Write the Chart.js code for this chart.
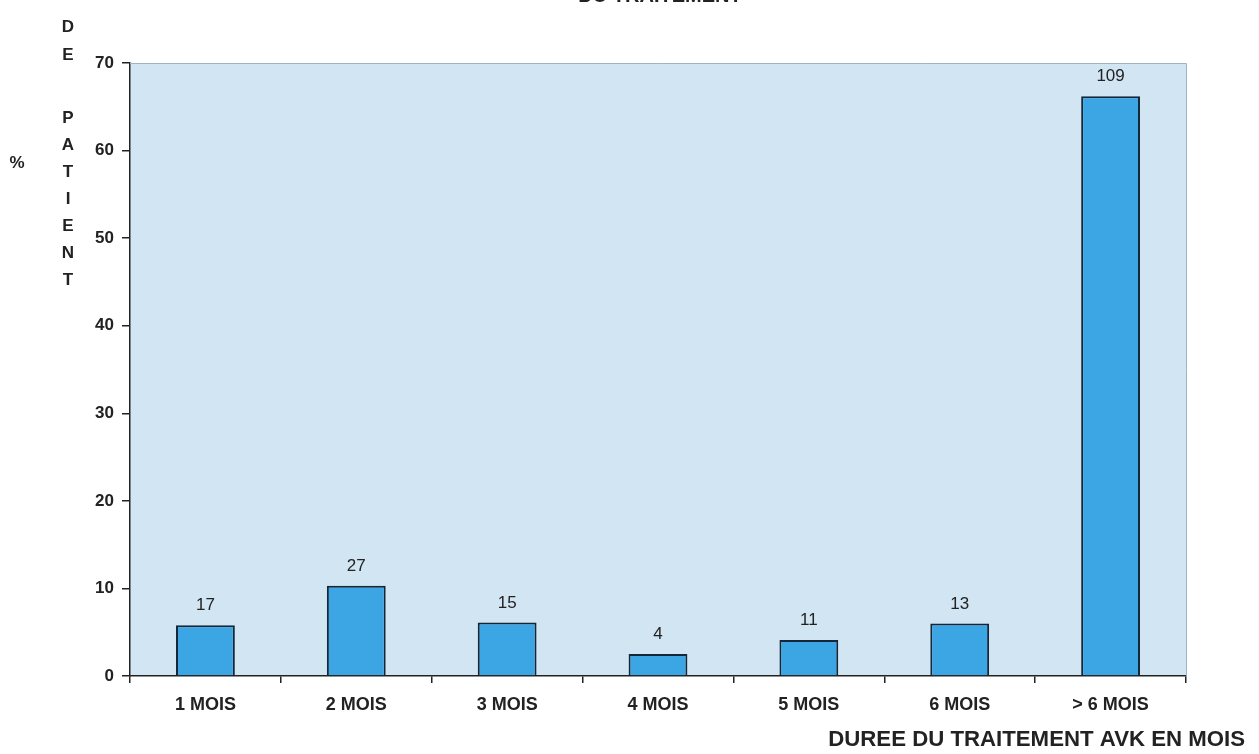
<!DOCTYPE html>
<html>
<head>
<meta charset="utf-8">
<script src="https://cdn.jsdelivr.net/npm/chart.js@4"></script>
<style>
html,body{margin:0;padding:0;background:#fff;}
#wrap{width:1259px;height:754px;position:relative;}
</style>
</head>
<body>
<div id="wrap"><canvas id="c" width="1259" height="754"></canvas></div>
<script>
// ---- data ----
const categories = ['1 MOIS', '2 MOIS', '3 MOIS', '4 MOIS', '5 MOIS', '6 MOIS', '> 6 MOIS'];
const percentValues = [5.8, 10.3, 6.1, 2.5, 4.1, 6.0, 66.2];
const patientCounts = [17, 27, 15, 4, 11, 13, 109];
const yMin = 0, yMax = 70, yStep = 10;
const yAxisWordTop = ['D', 'E'];
const yAxisWordBottom = ['P', 'A', 'T', 'I', 'E', 'N', 'T'];
const yAxisSymbol = '%';
const xAxisTitle = 'DUREE DU TRAITEMENT AVK EN MOIS';
const topTitle = 'DU TRAITEMENT';

const NARROW = "'Liberation Sans Narrow', 'Arial Narrow', 'Liberation Sans', Arial, sans-serif";
const SANS = "'Liberation Sans', Arial, sans-serif";

const decor = {
  id: 'decor',
  beforeDraw(chart) {
    const {ctx, chartArea: a} = chart;
    ctx.save();
    ctx.fillStyle = '#d1e5f2';
    ctx.fillRect(a.left, a.top, a.right - a.left, a.bottom - a.top);
    ctx.restore();
  },
  afterDatasetsDraw(chart) {
    const {ctx} = chart;
    const meta = chart.getDatasetMeta(0);
    ctx.save();
    ctx.fillStyle = '#222';
    ctx.font = "17px " + NARROW;
    ctx.textAlign = 'center';
    ctx.textBaseline = 'bottom';
    meta.data.forEach((bar, i) => {
      ctx.fillText(String(patientCounts[i]), bar.x, bar.y - 11);
    });
    ctx.restore();
  },
  afterDraw(chart) {
    const {ctx, chartArea: a} = chart;
    ctx.save();
    // light frame top & right
    ctx.strokeStyle = '#9fb3c2';
    ctx.lineWidth = 1;
    ctx.beginPath();
    ctx.moveTo(a.left, a.top + 0.5);
    ctx.lineTo(a.right + 0.5, a.top + 0.5);
    ctx.lineTo(a.right + 0.5, a.bottom);
    ctx.stroke();
    // y title: % and vertical letters
    ctx.fillStyle = '#222';
    ctx.font = "bold 17px " + SANS;
    ctx.textAlign = 'center';
    ctx.textBaseline = 'middle';
    ctx.fillText(yAxisSymbol, 17, 163);
    yAxisWordTop.forEach((ch, i) => ctx.fillText(ch, 68, 27 + i * 28));
    yAxisWordBottom.forEach((ch, i) => ctx.fillText(ch, 68, 118 + i * 27));
    // x axis title, right aligned
    ctx.font = "bold 18px " + SANS;
    const w = ctx.measureText(xAxisTitle).width;
    const fs = 18 * 417 / w;
    ctx.font = "bold " + fs.toFixed(2) + "px " + SANS;
    ctx.textAlign = 'right';
    ctx.textBaseline = 'middle';
    ctx.fillText(xAxisTitle, 1245, 740);
    // clipped top title
    ctx.font = "bold 20px " + SANS;
    ctx.textAlign = 'center';
    ctx.textBaseline = 'alphabetic';
    ctx.fillText(topTitle, 660, 2);
    ctx.restore();
  }
};

new Chart(document.getElementById('c'), {
  type: 'bar',
  data: {
    labels: categories,
    datasets: [{
      data: percentValues,
      backgroundColor: '#3ca6e4',
      borderColor: '#13263a',
      borderWidth: 2,
      borderSkipped: 'bottom',
      barPercentage: 0.39,
      categoryPercentage: 1.0
    }]
  },
  options: {
    responsive: false,
    animation: false,
    devicePixelRatio: 1,
    layout: {padding: {top: 63, right: 73, left: 0, bottom: 0}},
    plugins: {legend: {display: false}, tooltip: {enabled: false}, title: {display: false}},
    scales: {
      x: {
        offset: true,
        grid: {offset: true, drawOnChartArea: false, drawTicks: true, tickLength: 7, color: '#222', lineWidth: 1.5},
        border: {display: true, color: '#222', width: 1.5},
        ticks: {color: '#222', font: {family: NARROW, size: 18, weight: 'bold'}, padding: 11, maxRotation: 0, autoSkip: false},
        afterFit(scale) { scale.height = 78; }
      },
      y: {
        min: yMin, max: yMax,
        grid: {drawOnChartArea: false, drawTicks: true, tickLength: 8, color: '#222', lineWidth: 1.5},
        border: {display: true, color: '#222', width: 1.5},
        ticks: {stepSize: yStep, color: '#222', font: {family: NARROW, size: 17, weight: 'bold'}, padding: 8},
        afterFit(scale) { scale.width = 130; }
      }
    }
  },
  plugins: [decor]
});
</script>
</body>
</html>
